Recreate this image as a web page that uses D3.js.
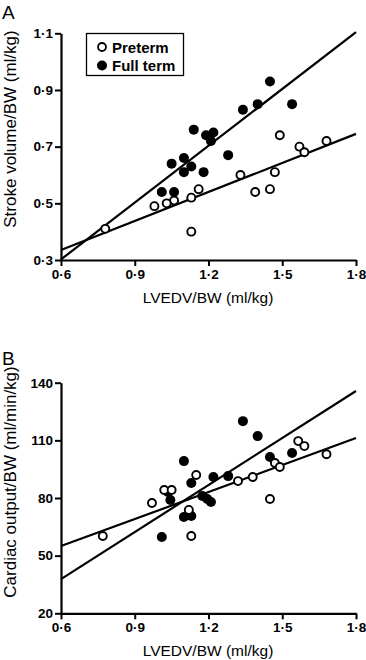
<!DOCTYPE html>
<html><head><meta charset="utf-8">
<script src="https://cdn.jsdelivr.net/npm/d3@7"></script>
<style>
body{margin:0;background:#fff;}
svg{display:block;}
text{font-family:"Liberation Sans",Arial,Helvetica,sans-serif;fill:#000;}
</style></head><body>
<svg id="c" width="366" height="660"></svg>
<script>
// Panel A: stroke volume/BW vs LVEDV/BW
const preA = [[1.49,0.74],[1.57,0.70],[1.59,0.68],[1.68,0.72],[1.33,0.60],[1.47,0.61],[1.39,0.54],[1.45,0.55],[1.16,0.55],[1.13,0.52],[1.06,0.51],[1.03,0.50],[0.98,0.49],[1.13,0.40],[0.78,0.41]];
const fullA = [[1.45,0.93],[1.40,0.85],[1.34,0.83],[1.54,0.85],[1.14,0.76],[1.19,0.74],[1.22,0.75],[1.21,0.72],[1.28,0.67],[1.10,0.66],[1.05,0.64],[1.13,0.63],[1.10,0.61],[1.18,0.61],[1.01,0.54],[1.06,0.54]];
const fitPreA = [[0.6,0.335],[1.8,0.745]];
const fitFullA = [[0.6,0.302],[1.8,1.104]];
// Panel B: cardiac output/BW vs LVEDV/BW
const preB = [[1.565,109.6],[1.59,107.0],[1.68,102.8],[1.47,98.2],[1.49,96.1],[1.38,90.9],[1.32,88.8],[1.15,92.0],[1.02,84.2],[1.05,84.2],[0.97,77.4],[1.45,79.5],[1.12,73.8],[0.77,60.2],[1.13,60.2]];
const fullB = [[1.34,120.0],[1.40,112.2],[1.10,99.2],[1.45,101.3],[1.54,103.4],[1.22,90.9],[1.28,91.4],[1.13,87.8],[1.035,83.1],[1.045,79.0],[1.175,81.0],[1.195,79.5],[1.21,77.9],[1.10,70.1],[1.13,70.6],[1.01,59.7]];
const fitPreB = [[0.6,55.0],[1.8,111.2]];
const fitFullB = [[0.6,37.8],[1.8,135.7]];
const xTicks = [0.6,0.9,1.2,1.5,1.8];
const yTicksA = [0.3,0.5,0.7,0.9,1.1];
const yTicksB = [20,50,80,110,140];
const legendLabels = ["Preterm","Full term"];

const svg = d3.select("#c");
const fmtDot = d => d3.format(".1f")(d).replace(".", "\u00B7");

function panel(cfg){
  const g = svg.append("g");
  const x = d3.scaleLinear().domain([0.6,1.8]).range([61,356]);
  const y = d3.scaleLinear().domain(cfg.ydom).range([cfg.bottom, cfg.top]);
  const xa = g.append("g").attr("transform",`translate(0,${cfg.bottom})`)
    .call(d3.axisBottom(x).tickValues(xTicks).tickFormat(fmtDot).tickSize(6).tickPadding(3).tickSizeOuter(0));
  const ya = g.append("g").attr("transform",`translate(61,0)`)
    .call(d3.axisLeft(y).tickValues(cfg.yticks).tickFormat(cfg.yfmt).tickSize(6).tickPadding(2).tickSizeOuter(0));
  [xa,ya].forEach(a=>{
    a.select(".domain").attr("stroke","#000").attr("stroke-width",2.2);
    a.selectAll(".tick line").attr("stroke","#000").attr("stroke-width",2);
    a.selectAll(".tick text").attr("font-size",13.5).attr("font-weight","bold")
      .attr("font-family",'"Liberation Sans",Arial,sans-serif').attr("fill","#000");
  });
  const line = d3.line().x(d=>x(d[0])).y(d=>y(d[1]));
  [cfg.fitPre,cfg.fitFull].forEach(f=>{
    g.append("path").attr("d",line(f)).attr("fill","none").attr("stroke","#000").attr("stroke-width",2.2);
  });
  g.selectAll(".pf").data(cfg.full).join("circle")
    .attr("cx",d=>x(d[0])).attr("cy",d=>y(d[1])).attr("r",5).attr("fill","#000");
  g.selectAll(".pp").data(cfg.pre).join("circle")
    .attr("cx",d=>x(d[0])).attr("cy",d=>y(d[1])).attr("r",4).attr("fill","#fff").attr("stroke","#000").attr("stroke-width",1.9);
  g.append("text").attr("x",208).attr("y",cfg.bottom+43).attr("text-anchor","middle")
    .attr("font-size",15.5).text("LVEDV/BW (ml/kg)");
  g.append("text").attr("transform",`translate(16,${cfg.ytitleY}) rotate(-90)`)
    .attr("text-anchor","middle").attr("font-size",17).text(cfg.ytitle);
  g.append("text").attr("x",2).attr("y",cfg.letterY).attr("font-size",19).attr("font-weight","300")
    .attr("font-family",'"DejaVu Sans", sans-serif').text(cfg.letter);
  return {g,x,y};
}

panel({ydom:[0.3,1.1], top:33.3, bottom:260, yticks:yTicksA, yfmt:fmtDot,
  pre:preA, full:fullA, fitPre:fitPreA, fitFull:fitFullA,
  ytitle:"Stroke volume/BW (ml/kg)", ytitleY:129, letter:"A", letterY:19});
panel({ydom:[20,140], top:382.7, bottom:613.3, yticks:yTicksB, yfmt:d3.format("d"),
  pre:preB, full:fullB, fitPre:fitPreB, fitFull:fitFullB,
  ytitle:"Cardiac output/BW (ml/min/kg)", ytitleY:482, letter:"B", letterY:365});

const lg = svg.append("g");
lg.append("rect").attr("x",86.5).attr("y",33.5).attr("width",97).attr("height",42)
  .attr("fill","#fff").attr("stroke","#000").attr("stroke-width",1.3);
lg.selectAll(".lm").data(legendLabels).join("circle")
  .attr("cx",102).attr("cy",(d,i)=>47+i*18.5).attr("r",(d,i)=>i?5:4)
  .attr("fill",(d,i)=>i?"#000":"#fff").attr("stroke","#000").attr("stroke-width",(d,i)=>i?0:1.8);
lg.selectAll(".lt").data(legendLabels).join("text")
  .attr("x",112).attr("y",(d,i)=>52.5+i*18.5).attr("font-size",15).attr("font-weight","bold")
  .text(d=>d);
</script>
</body></html>
